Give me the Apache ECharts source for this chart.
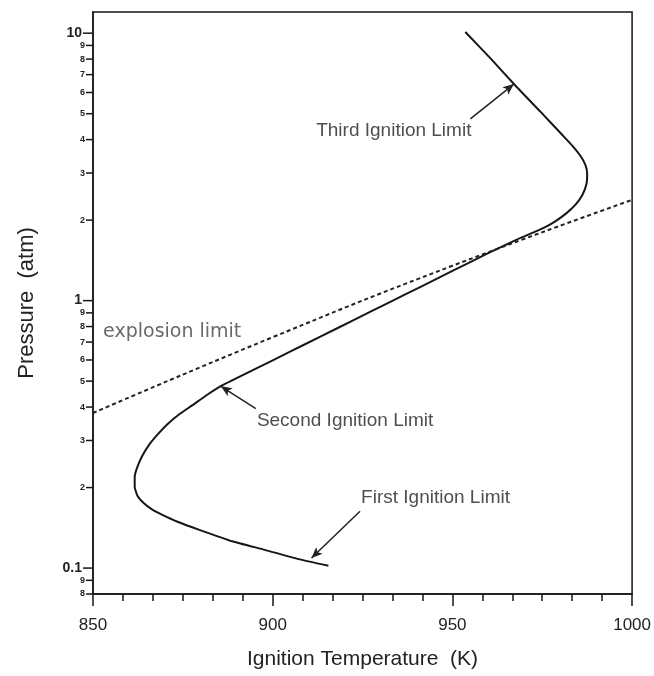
<!DOCTYPE html>
<html>
<head>
<meta charset="utf-8">
<script src="https://cdn.jsdelivr.net/npm/echarts@6/dist/echarts.min.js"></script>
<style>
  html, body { margin: 0; padding: 0; background: #fff; }
  #main { width: 654px; height: 676px; }
</style>
</head>
<body>
<div id="main"></div>
<script>
// ignition limit curve, in drawing order (top -> bottom)
var curveT = [953.6, 960.8, 967.9, 974.3, 980.6, 983.4, 985.6, 987.0, 987.5, 987.3, 986.2, 984.2,
              981.5, 978.4, 975.4, 967.9, 959.67, 950.28, 941.16, 932.04, 922.93, 913.54, 904.42, 895.03,
              885.91, 881.5, 877.6, 874.0, 870.7, 868.0, 865.7, 863.8, 862.4, 861.6, 861.6, 862.4,
              864.1, 866.3, 869.3, 873.5, 879.6, 888.7, 897.8, 907.2, 915.5];
var curveP = [10.1, 8.0, 6.29, 5.12, 4.16, 3.79, 3.48, 3.22, 2.98, 2.73, 2.49, 2.28,
              2.11, 1.97, 1.87, 1.69, 1.4976, 1.2965, 1.1266, 0.9793, 0.8511, 0.7368, 0.6405, 0.5542,
              0.4817, 0.442, 0.406, 0.376, 0.345, 0.316, 0.290, 0.264, 0.240, 0.219, 0.201, 0.186,
              0.175, 0.166, 0.158, 0.149, 0.139, 0.126, 0.117, 0.108, 0.102];

// dashed explosion limit
var explT = [850, 900, 950, 1000];
var explP = [0.38, 0.73, 1.35, 2.38];

// y tick values and their printed labels
var yTickVals = [0.08, 0.09, 0.1, 0.2, 0.3, 0.4, 0.5, 0.6, 0.7, 0.8, 0.9,
                 1, 2, 3, 4, 5, 6, 7, 8, 9, 10];
var yTickText = ['8', '9', '0.1', '2', '3', '4', '5', '6', '7', '8', '9',
                 '1', '2', '3', '4', '5', '6', '7', '8', '9', '10'];

// annotations
var annoText = ['Third Ignition Limit', 'Second Ignition Limit', 'First Ignition Limit'];
var annoT = [912.1, 895.6, 924.6];
var annoP = [4.31, 0.356, 0.183];
var arrowFromT = [955.0, 895.3, 924.3];
var arrowFromP = [4.78, 0.395, 0.163];
var arrowToT = [967.1, 885.6, 910.8];
var arrowToP = [6.45, 0.478, 0.109];
var explLabelT = 852.8, explLabelP = 0.766;

var xMin = 850, xMax = 1000;

var ink = '#161616';
var myChart = echarts.init(document.getElementById('main'));

var curveData = curveT.map(function (t, i) { return [t, curveP[i]]; });
var explData = explT.map(function (t, i) { return [t, explP[i]]; });
var annoData = annoT.map(function (t, i) { return { name: annoText[i], value: [t, annoP[i]] }; });
var arrowData = arrowFromT.map(function (t, i) {
    return [{ coord: [t, arrowFromP[i]] }, { coord: [arrowToT[i], arrowToP[i]] }];
});

myChart.setOption({
    backgroundColor: '#fff',
    animation: false,
    grid: {
        left: 93, right: 20, top: 12, bottom: 82,
        show: true, borderColor: ink, borderWidth: 1.5
    },
    xAxis: {
        type: 'value',
        min: xMin, max: xMax, interval: 50,
        name: 'Ignition Temperature  (K)',
        nameLocation: 'middle',
        nameGap: 55,
        nameTextStyle: { fontSize: 21, color: '#222', fontFamily: 'Liberation Sans' },
        axisLine: { lineStyle: { color: ink, width: 1.5 } },
        axisTick: { length: 12, lineStyle: { color: ink, width: 1.5 } },
        minorTick: { show: true, splitNumber: 6, length: 7, lineStyle: { color: ink, width: 1.5 } },
        splitLine: { show: false },
        axisLabel: {
            fontSize: 17, color: '#222', margin: 23, fontFamily: 'Liberation Sans',
            formatter: function (v) { return String(v); }
        }
    },
    yAxis: {
        type: 'log', logBase: 10,
        min: 0.08, max: 12,
        name: 'Pressure  (atm)',
        nameLocation: 'middle',
        nameGap: 55,
        nameTextStyle: { fontSize: 22, color: '#222', fontFamily: 'Liberation Sans' },
        axisLine: { show: true, lineStyle: { color: ink, width: 1.5 } },
        axisTick: { show: false },
        axisLabel: { show: false },
        splitLine: { show: false }
    },
    series: [
        {
            type: 'line',
            data: curveData,
            smooth: 0.15,
            symbol: 'none',
            silent: true,
            lineStyle: { color: ink, width: 2 }
        },
        {
            type: 'line',
            data: explData,
            smooth: true,
            symbol: 'none',
            silent: true,
            lineStyle: { color: '#222', width: 2, type: [4, 3] }
        },
        {
            type: 'scatter',
            data: annoData,
            symbolSize: 0,
            silent: true,
            label: {
                show: true, position: 'right', distance: 0,
                formatter: function (p) { return p.name; },
                fontSize: 19, color: '#222', fontFamily: 'Liberation Sans'
            },
            markLine: {
                silent: true,
                symbol: ['none', 'arrow'],
                symbolSize: [7, 11],
                label: { show: false },
                lineStyle: { color: '#222', width: 1.5, type: 'solid' },
                data: arrowData
            }
        },
        {
            type: 'scatter',
            data: [{ name: 'explosion limit', value: [explLabelT, explLabelP] }],
            symbolSize: 0,
            silent: true,
            label: {
                show: true, position: 'right', distance: 0,
                formatter: function (p) { return p.name; },
                fontSize: 19, color: '#444', fontFamily: 'DejaVu Sans'
            }
        },
        {
            // y ticks and labels drawn through the log axis
            type: 'custom',
            silent: true,
            z: 10,
            data: yTickVals.map(function (v) { return [xMin, v]; }),
            encode: { x: 0, y: 1 },
            renderItem: function (params, api) {
                var i = params.dataIndex;
                var v = yTickVals[i];
                var pt = api.coord([xMin, v]);
                var lg = Math.log10(v);
                var major = Math.abs(lg - Math.round(lg)) < 1e-9;
                var len = major ? 10 : 7;
                return {
                    type: 'group',
                    children: [
                        {
                            type: 'line',
                            shape: { x1: pt[0] - len, y1: pt[1], x2: pt[0], y2: pt[1] },
                            style: { stroke: ink, lineWidth: 1.5 }
                        },
                        {
                            type: 'text',
                            x: pt[0] - len - 1,
                            y: pt[1],
                            style: {
                                text: yTickText[i],
                                align: 'right', textAlign: 'right',
                                verticalAlign: 'middle', textVerticalAlign: 'middle',
                                fontSize: major ? 14 : 9,
                                fontWeight: 'bold',
                                fontFamily: 'Liberation Sans',
                                fill: '#222'
                            }
                        }
                    ]
                };
            }
        }
    ]
});
</script>
</body>
</html>
